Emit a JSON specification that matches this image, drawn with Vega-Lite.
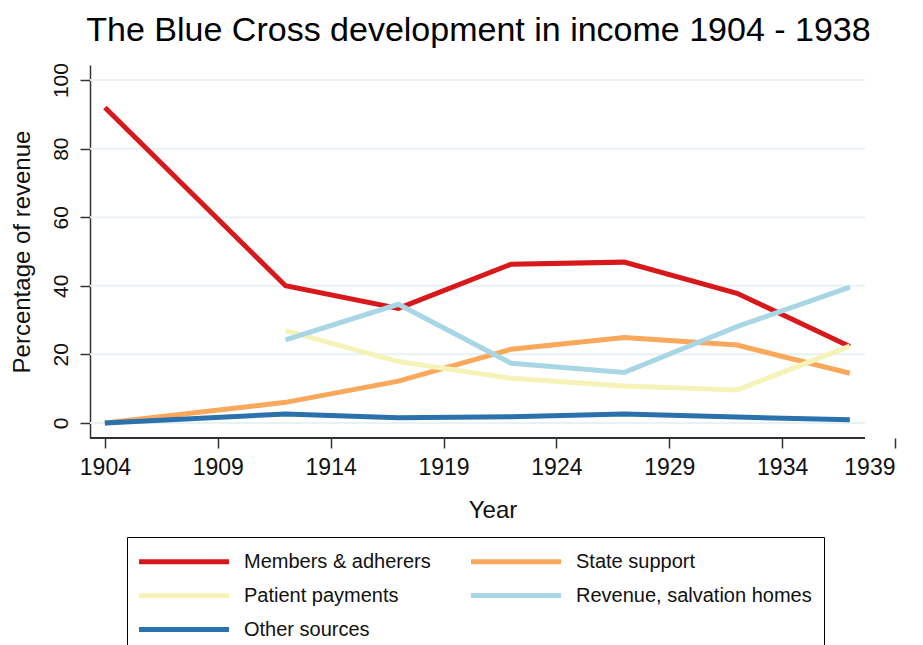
{
  "$schema": "https://vega.github.io/schema/vega-lite/v6.json",
  "width": 805,
  "height": 373,
  "autosize": "none",
  "padding": {"left": 90, "top": 65, "right": 28, "bottom": 207},
  "background": "white",
  "config": {"view": {"stroke": null}, "font": "Liberation Sans"},
  "title": {"text": "The Blue Cross development in income 1904 - 1938", "fontSize": 34, "fontWeight": "normal", "color": "#000", "anchor": "middle", "dx": -14, "offset": 15, "font": "Liberation Sans"},
  "datasets": {
    "income": [
      {"year": 1904, "source": "Members & adherers", "pct": 92},
      {"year": 1912, "source": "Members & adherers", "pct": 40},
      {"year": 1917, "source": "Members & adherers", "pct": 33.4},
      {"year": 1922, "source": "Members & adherers", "pct": 46.3},
      {"year": 1927, "source": "Members & adherers", "pct": 46.9},
      {"year": 1932, "source": "Members & adherers", "pct": 37.8},
      {"year": 1937, "source": "Members & adherers", "pct": 22.3},
      {"year": 1904, "source": "State support", "pct": 0},
      {"year": 1912, "source": "State support", "pct": 6.0},
      {"year": 1917, "source": "State support", "pct": 12.2},
      {"year": 1922, "source": "State support", "pct": 21.5},
      {"year": 1927, "source": "State support", "pct": 24.9},
      {"year": 1932, "source": "State support", "pct": 22.7},
      {"year": 1937, "source": "State support", "pct": 14.5},
      {"year": 1912, "source": "Patient payments", "pct": 26.9},
      {"year": 1917, "source": "Patient payments", "pct": 17.9},
      {"year": 1922, "source": "Patient payments", "pct": 13.0},
      {"year": 1927, "source": "Patient payments", "pct": 10.8},
      {"year": 1932, "source": "Patient payments", "pct": 9.6},
      {"year": 1937, "source": "Patient payments", "pct": 22.4},
      {"year": 1912, "source": "Revenue, salvation homes", "pct": 24.2},
      {"year": 1917, "source": "Revenue, salvation homes", "pct": 34.6},
      {"year": 1922, "source": "Revenue, salvation homes", "pct": 17.4},
      {"year": 1927, "source": "Revenue, salvation homes", "pct": 14.7},
      {"year": 1932, "source": "Revenue, salvation homes", "pct": 28.1},
      {"year": 1937, "source": "Revenue, salvation homes", "pct": 39.6},
      {"year": 1904, "source": "Other sources", "pct": 0},
      {"year": 1912, "source": "Other sources", "pct": 2.6},
      {"year": 1917, "source": "Other sources", "pct": 1.5},
      {"year": 1922, "source": "Other sources", "pct": 1.8},
      {"year": 1927, "source": "Other sources", "pct": 2.6},
      {"year": 1932, "source": "Other sources", "pct": 1.7},
      {"year": 1937, "source": "Other sources", "pct": 0.9}
    ],
    "grid": [{"v": 0}, {"v": 20}, {"v": 40}, {"v": 60}, {"v": 80}, {"v": 100}]
  },
  "layer": [
    {
      "data": {"name": "grid"},
      "mark": {"type": "rule", "color": "#e8f1f4", "strokeWidth": 2},
      "encoding": {
        "y": {"field": "v", "type": "quantitative", "scale": {"domain": [-4.4, 104.4], "nice": false, "zero": false},
          "axis": {"values": [0, 20, 40, 60, 80, 100], "grid": false, "domain": true, "domainColor": "#333", "domainWidth": 1.5, "tickSize": 10, "tickColor": "#333", "tickWidth": 1.5, "labelAngle": 270, "labelFontSize": 21, "labelColor": "#111", "labelPadding": 9, "title": "Percentage of revenue", "titleFontSize": 24, "titleFontWeight": "normal", "titleColor": "#111", "titlePadding": 16}},
        "x": {"datum": 1903.34, "type": "quantitative"},
        "x2": {"datum": 1937.67}
      }
    },
    {
      "data": {"name": "grid"},
      "mark": {"type": "rule", "color": "#333", "strokeWidth": 1.5},
      "encoding": {
        "y": {"datum": -4.4, "type": "quantitative"},
        "x": {"datum": 1903.34, "type": "quantitative"},
        "x2": {"datum": 1937.67}
      }
    },
    {
      "data": {"name": "income"},
      "mark": {"type": "line", "strokeWidth": 5},
      "encoding": {
        "x": {
          "field": "year", "type": "quantitative",
          "scale": {"domain": [1903.34, 1939], "nice": false, "zero": false},
          "axis": {"values": [1904, 1909, 1914, 1919, 1924, 1929, 1934, 1939], "format": "d", "domain": false, "grid": false, "tickSize": 10, "tickColor": "#333", "tickWidth": 1.5, "labelFontSize": 23, "labelColor": "#111", "labelPadding": 8, "title": "Year", "titleFontSize": 24, "titleFontWeight": "normal", "titleColor": "#111", "titlePadding": 19}
        },
        "y": {
          "field": "pct", "type": "quantitative",
          "axis": {"values": [0, 20, 40, 60, 80, 100], "grid": false, "domain": true, "domainColor": "#333", "domainWidth": 1.5, "tickSize": 10, "tickColor": "#333", "tickWidth": 1.5, "labelAngle": 270, "labelFontSize": 21, "labelColor": "#111", "labelPadding": 9, "title": "Percentage of revenue", "titleFontSize": 24, "titleFontWeight": "normal", "titleColor": "#111", "titlePadding": 16}
        },
        "color": {
          "field": "source", "type": "nominal",
          "scale": {"domain": ["Members & adherers", "State support", "Patient payments", "Revenue, salvation homes", "Other sources"], "range": ["#d7191c", "#f9a85c", "#f5f3b8", "#a9d6e5", "#2b72ad"]},
          "legend": {"orient": "none", "legendX": 37, "legendY": 472, "direction": "horizontal", "columns": 2, "title": null, "symbolType": "M-1.25,0H7.75", "symbolSize": 400, "symbolStrokeWidth": 5, "labelFontSize": 20, "labelColor": "#111", "labelOffset": 80, "labelLimit": 400, "columnPadding": 30, "rowPadding": 11, "padding": 12, "strokeColor": "#000", "fillColor": "white"}
        }
      }
    }
  ]
}
